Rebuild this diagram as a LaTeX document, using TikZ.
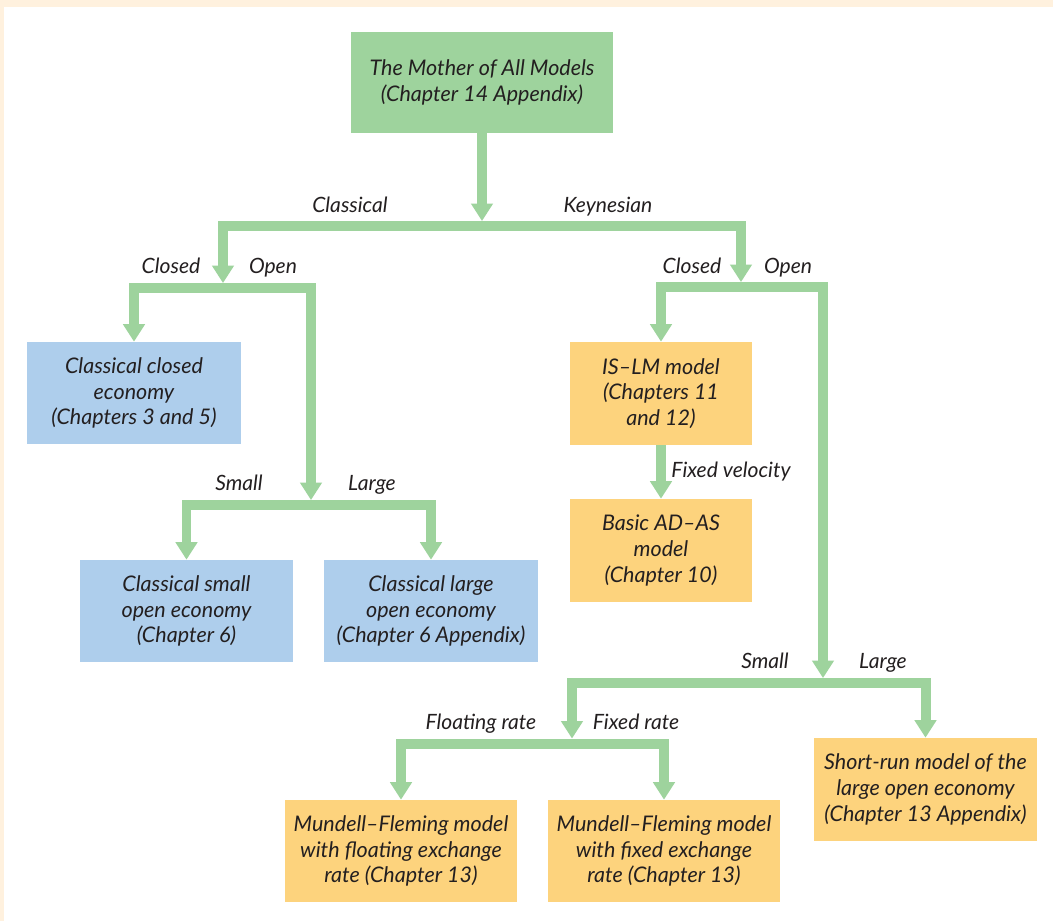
\documentclass[tikz,border=0pt]{standalone}
\usepackage{fontspec}
\setmainfont{Lato}
\usepackage{tikz}
\usetikzlibrary{arrows.meta,calc}

\definecolor{flowgreen}{RGB}{158,211,157}
\definecolor{classblue}{RGB}{174,206,236}
\definecolor{keyorange}{RGB}{253,211,125}
\definecolor{pagecream}{RGB}{255,241,222}
\definecolor{inkgray}{RGB}{35,31,32}

\tikzset{
    model/.style={minimum height=2.55cm, inner sep=0pt, align=center,
        text=inkgray, font=\itshape\fontsize{15.3}{18.2}\selectfont},
    branch/.style={text=inkgray, anchor=base, inner sep=0pt,
        font=\itshape\fontsize{15}{18}\selectfont},
    flow/.style={draw=flowgreen, line width=7.1pt,
        -{Triangle[width=15pt,length=12.5pt]}},
    split/.style={draw=flowgreen, line width=7.1pt, line join=miter,
        {Triangle[width=15pt,length=12.5pt]}-{Triangle[width=15pt,length=12.5pt]}}
}

\begin{document}
\begin{tikzpicture}[x=0.025cm, y=-0.025cm]
    % page
    \useasboundingbox (0,0) rectangle (1053,921);
    \fill[pagecream] (0,0) rectangle (1053,921);
    \fill[white] (4,7) rectangle (1053,921);

    % models
    \node[model, fill=flowgreen, minimum width=6.55cm, minimum height=2.525cm] (mother) at (482,82.5)
        {The Mother of All Models\\(Chapter 14 Appendix)};
    \node[model, fill=classblue, minimum width=5.35cm] (clclosed) at (134,393)
        {Classical closed\\economy\\(Chapters 3 and 5)};
    \node[model, fill=classblue, minimum width=5.325cm] (clsmall) at (186.5,611)
        {Classical small\\open economy\\(Chapter 6)};
    \node[model, fill=classblue, minimum width=5.35cm] (cllarge) at (431,611)
        {Classical large\\open economy\\(Chapter 6 Appendix)};
    \node[model, fill=keyorange, minimum width=4.55cm, minimum height=2.575cm] (islm) at (661,393.5)
        {IS--LM model\\(Chapters 11\\and 12)};
    \node[model, fill=keyorange, minimum width=4.55cm, minimum height=2.575cm] (adas) at (661,550.5)
        {Basic AD--AS\\model\\(Chapter 10)};
    \node[model, fill=keyorange, minimum width=5.575cm, minimum height=2.575cm] (srlarge) at (925.5,789.5)
        {Short-run model of the\\large open economy\\(Chapter 13 Appendix)};
    \node[model, fill=keyorange, minimum width=5.8cm] (mffloat) at (401,851)
        {Mundell--Fleming model\\with floating exchange\\rate (Chapter 13)};
    \node[model, fill=keyorange, minimum width=5.8cm] (mffixed) at (664,851)
        {Mundell--Fleming model\\with fixed exchange\\rate (Chapter 13)};

    % junctions (bar centres)
    \coordinate (jroot) at (482,226);
    \coordinate (jcl) at (223,288);
    \coordinate (jclopen) at (311,505);
    \coordinate (jkey) at (741,287);
    \coordinate (jkopen) at (823,683);
    \coordinate (jsmall) at (572,743.5);

    % connectors
    \draw[flow, shorten >=3.5pt] (mother.south) -- (jroot);
    \draw[split, shorten <=3.5pt, shorten >=3.5pt] (jcl) |- (jroot) -| (jkey);
    \draw[split, shorten >=3.5pt] (clclosed.north) |- (jcl) -| (jclopen);
    \draw[split] (clsmall.north) |- (jclopen) -| (cllarge.north);
    \draw[split, shorten >=3.5pt] (islm.north) |- (jkey) -| (jkopen);
    \draw[flow] (islm.south) -- (adas.north);
    \draw[split, shorten <=3.5pt] (jsmall) |- (jkopen) -| (srlarge.north);
    \draw[split] (mffloat.north) |- (jsmall) -| (mffixed.north);

    % branch labels
    \node[branch] (lclassical) at (350,212) {Classical};
    \node[branch] (lkeynes) at (608,212) {Keynesian};
    \node[branch] (lclclosed) at (171,273) {Closed};
    \node[branch] (lclopen) at (273,273) {Open};
    \node[branch] (lkclosed) at (692,273) {Closed};
    \node[branch] (lkopen) at (788,273) {Open};
    \node[branch] (lclsmall) at (239,490) {Small};
    \node[branch] (lcllarge) at (372,490) {Large};
    \node[branch] (lvelocity) at (731,477) {Fixed velocity};
    \node[branch] (lksmall) at (765,668) {Small};
    \node[branch] (lklarge) at (883,668) {Large};
    \node[branch] (lfloat) at (481,729) {Floating rate};
    \node[branch] (lfixed) at (636,729) {Fixed rate};
\end{tikzpicture}
\end{document}
